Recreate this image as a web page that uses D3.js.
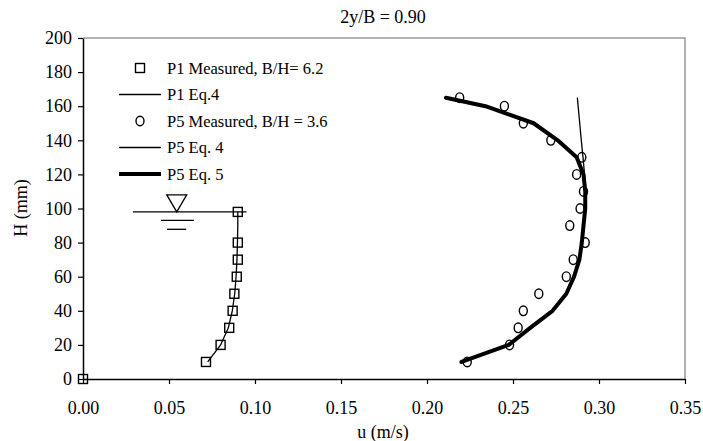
<!DOCTYPE html>
<html>
<head>
<meta charset="utf-8">
<script src="https://cdn.jsdelivr.net/npm/d3@7"></script>
<style>
  body { margin: 0; background: #fff; }
  text { font-family: "Liberation Serif", "Times New Roman", serif; fill: #000; }
</style>
</head>
<body>
<svg id="chart" width="703" height="441"></svg>
<script>
// u (m/s) vs H (mm)
var p1Measured = [[0, 0], [0.0715, 10], [0.080, 20], [0.085, 30], [0.087, 40],
                  [0.088, 50], [0.0894, 60], [0.090, 70], [0.090, 80], [0.090, 98]];
var p1Eq4 = [[0.0725, 10], [0.080, 20], [0.0845, 30], [0.0868, 40], [0.0882, 50],
             [0.089, 60], [0.0895, 70], [0.0898, 80], [0.090, 90], [0.090, 98]];
var p5Measured = [[0.2234, 10], [0.248, 20], [0.253, 30], [0.256, 40], [0.265, 50],
                  [0.281, 60], [0.285, 70], [0.292, 80], [0.283, 90], [0.289, 100],
                  [0.291, 110], [0.287, 120], [0.290, 130], [0.272, 140], [0.256, 150],
                  [0.245, 160], [0.219, 165]];
var p5Eq4 = [[0.220, 10], [0.2475, 20], [0.260, 30], [0.273, 40], [0.281, 50],
             [0.2855, 60], [0.2886, 70], [0.290, 80], [0.291, 90], [0.292, 100],
             [0.292, 110], [0.2916, 120], [0.2907, 130], [0.2897, 140], [0.2888, 150],
             [0.2874, 165]];
var p5Eq5 = [[0.220, 10], [0.2475, 20], [0.260, 30], [0.273, 40], [0.281, 50],
             [0.2855, 60], [0.2886, 70], [0.290, 80], [0.291, 90], [0.292, 100],
             [0.292, 110], [0.291, 120], [0.287, 130], [0.276, 140], [0.262, 150],
             [0.234, 160], [0.211, 165]];
var xTicks = [0, 0.05, 0.10, 0.15, 0.20, 0.25, 0.30, 0.35];
var yTicks = [0, 20, 40, 60, 80, 100, 120, 140, 160, 180, 200];
var legendLabels = ["P1 Measured, B/H= 6.2", "P1 Eq.4", "P5 Measured, B/H = 3.6", "P5 Eq. 4", "P5 Eq. 5"];
// water surface symbol (u, H)
var waterLine = [[0.029, 98], [0.095, 98]];
var waterTri = [[0.0487, 108], [0.0603, 108], [0.0545, 98]];
var waterDash1 = [[0.0453, 93], [0.0645, 93]];
var waterDash2 = [[0.0488, 87.8], [0.060, 87.8]];

var svg = d3.select("#chart");
var pLeft = 83, pRight = 685, pTop = 38, pBottom = 379;

var x = d3.scaleLinear().domain([0, 0.35]).range([pLeft, pRight]);
var y = d3.scaleLinear().domain([0, 200]).range([pBottom, pTop]);

// frame: gray top/right
svg.append("path")
   .attr("d", "M" + pLeft + "," + pTop + "H" + pRight + "V" + pBottom)
   .style("fill", "none").style("stroke", "#999").style("stroke-width", 1.5);

var xAxis = svg.append("g")
   .attr("transform", "translate(0," + pBottom + ")")
   .call(d3.axisBottom(x).tickValues(xTicks).tickFormat(d3.format(".2f")).tickSize(5).tickSizeOuter(0));
var yAxis = svg.append("g")
   .attr("transform", "translate(" + pLeft + ",0)")
   .call(d3.axisLeft(y).tickValues(yTicks).tickSize(5).tickSizeOuter(0));

[xAxis, yAxis].forEach(function(a){
    a.attr("font-family", null).attr("font-size", null);
    a.select(".domain").style("stroke", "#000").style("stroke-width", 1.5);
    a.selectAll(".tick line").style("stroke", "#000").style("stroke-width", 1.2);
    a.selectAll(".tick text").style("font-family", "Liberation Serif").style("font-size", "18px").style("fill", "#000");
});
xAxis.selectAll(".tick text").attr("dy", "0.71em").attr("y", 22);
yAxis.selectAll(".tick text").attr("x", -11);

svg.append("text").attr("x", 383).attr("y", 23).attr("text-anchor", "middle")
   .style("font-size", "18px").text("2y/B = 0.90");
svg.append("text").attr("x", 383).attr("y", 438).attr("text-anchor", "middle")
   .style("font-size", "18px").text("u (m/s)");
svg.append("text").attr("transform", "translate(27,208) rotate(-90)").attr("text-anchor", "middle")
   .style("font-size", "18px").text("H (mm)");

var line = d3.line().x(function(d){ return x(d[0]); }).y(function(d){ return y(d[1]); });

// water surface
svg.append("path").attr("d", line(waterLine)).style("stroke", "#000").style("stroke-width", 1.3).style("fill", "none");
svg.append("path").attr("d", line(waterTri) + "Z").style("stroke", "#000").style("stroke-width", 1.3).style("fill", "none");
svg.append("path").attr("d", line(waterDash1)).style("stroke", "#000").style("stroke-width", 1.3).style("fill", "none");
svg.append("path").attr("d", line(waterDash2)).style("stroke", "#000").style("stroke-width", 1.3).style("fill", "none");

svg.append("path").attr("d", line(p1Eq4)).style("fill", "none").style("stroke", "#000").style("stroke-width", 1.3);
svg.append("path").attr("d", line(p5Eq4)).style("fill", "none").style("stroke", "#000").style("stroke-width", 1.3);
svg.append("path").attr("d", line(p5Eq5)).style("fill", "none").style("stroke", "#000").style("stroke-width", 4)
   .style("stroke-linejoin", "round").style("stroke-linecap", "round");

svg.selectAll("rect.p1").data(p1Measured).enter().append("rect")
   .attr("class", "p1")
   .attr("x", function(d){ return x(d[0]) - 4.5; })
   .attr("y", function(d){ return y(d[1]) - 4.5; })
   .attr("width", 9).attr("height", 9)
   .style("fill", "none").style("stroke", "#000").style("stroke-width", 1.4);

svg.selectAll("ellipse.p5").data(p5Measured).enter().append("ellipse")
   .attr("class", "p5")
   .attr("cx", function(d){ return x(d[0]); })
   .attr("cy", function(d){ return y(d[1]); })
   .attr("rx", 4).attr("ry", 4.8)
   .style("fill", "none").style("stroke", "#000").style("stroke-width", 1.4);

// legend
var lg = svg.append("g");
var rowY = function(i){ return 68 + i * 26.5; };
lg.append("rect").attr("x", 135.5).attr("y", rowY(0) - 4.5).attr("width", 9).attr("height", 9)
  .style("fill", "none").style("stroke", "#000").style("stroke-width", 1.4);
lg.append("line").attr("x1", 119).attr("x2", 161).attr("y1", rowY(1)).attr("y2", rowY(1))
  .style("stroke", "#000").style("stroke-width", 1.3);
lg.append("ellipse").attr("cx", 140).attr("cy", rowY(2)).attr("rx", 4).attr("ry", 4.8)
  .style("fill", "none").style("stroke", "#000").style("stroke-width", 1.4);
lg.append("line").attr("x1", 119).attr("x2", 161).attr("y1", rowY(3)).attr("y2", rowY(3))
  .style("stroke", "#000").style("stroke-width", 1.3);
lg.append("line").attr("x1", 119).attr("x2", 161).attr("y1", rowY(4)).attr("y2", rowY(4))
  .style("stroke", "#000").style("stroke-width", 4);
lg.selectAll("text").data(legendLabels).enter().append("text")
  .attr("x", 167).attr("y", function(d, i){ return rowY(i) + 5.5; })
  .style("font-size", "16.5px").text(function(d){ return d; });
</script>
</body>
</html>
